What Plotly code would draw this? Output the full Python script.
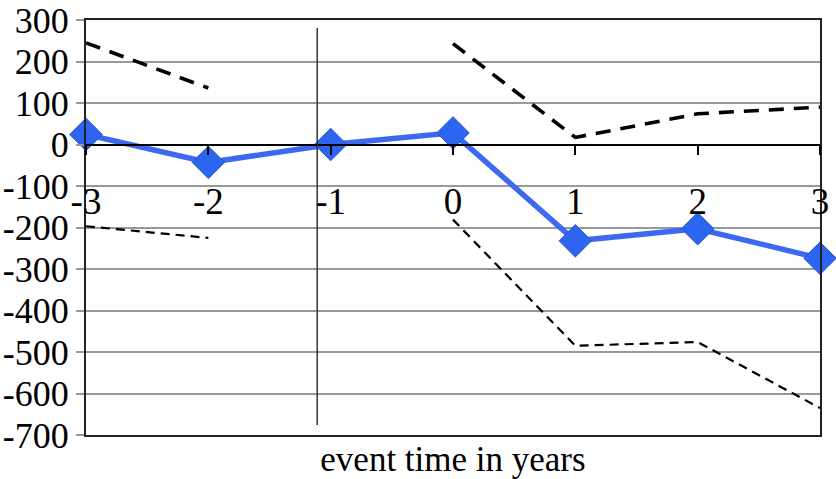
import plotly.graph_objects as go

event_time = [-3, -2, -1, 0, 1, 2, 3]
estimate = [24, -43, 0, 28, -232, -203, -274]
upper_ci = [245, 136, None, 243, 17, 74, 90]
lower_ci = [-197, -225, None, -181, -485, -476, -635]

y_ticks = [300, 200, 100, 0, -100, -200, -300, -400, -500, -600, -700]
y_ticktext = [str(v) for v in y_ticks]
x_ticktext = [str(v) for v in event_time]

event_marker_x = -1.11
event_marker_y = [281, -676]

font_family = "Liberation Serif"

fig = go.Figure()

fig.add_trace(go.Scatter(
    x=event_time, y=upper_ci, mode="lines", xaxis="x2",
    line=dict(color="black", width=3.6, dash="15px,10px"),
    connectgaps=False, hoverinfo="skip", showlegend=False))
fig.add_trace(go.Scatter(
    x=event_time, y=lower_ci, mode="lines", xaxis="x2",
    line=dict(color="black", width=2.2, dash="9px,6px"),
    connectgaps=False, hoverinfo="skip", showlegend=False))
fig.add_trace(go.Scatter(
    x=event_time, y=estimate, mode="lines+markers", xaxis="x2",
    line=dict(color="#3F68F2", width=5.5),
    marker=dict(symbol="diamond", size=25, color="#2C66F0",
                line=dict(color="#2456C8", width=1)),
    cliponaxis=False, showlegend=False))
# invisible trace to keep the frame axis alive
fig.add_trace(go.Scatter(x=[event_time[0]], y=[y_ticks[0]], mode="markers",
                         marker=dict(opacity=0), showlegend=False, hoverinfo="skip"))

fig.add_shape(type="line", xref="x", yref="y",
              x0=event_marker_x, x1=event_marker_x,
              y0=event_marker_y[0], y1=event_marker_y[1],
              line=dict(color="#333333", width=1.5))

fig.update_layout(
    width=836, height=479,
    margin=dict(l=86, r=16, t=20, b=44),
    paper_bgcolor="white", plot_bgcolor="white",
    font=dict(family=font_family, color="black", size=36),
    showlegend=False,
    xaxis=dict(
        range=[-3, 3], showgrid=False, zeroline=False, automargin=False,
        showline=True, linecolor="#222222", linewidth=2, mirror=True,
        showticklabels=False, ticks="",
        title=dict(text="event time in years", font=dict(size=35, family=font_family),
                   standoff=11),
    ),
    xaxis2=dict(
        overlaying="x", anchor="free", position=0.7, matches="x", automargin=False,
        range=[-3, 3], showgrid=False, zeroline=False,
        showline=True, linecolor="black", linewidth=1.5,
        tickmode="array", tickvals=event_time, ticktext=x_ticktext,
        ticks="outside", ticklen=10, tickcolor="black", tickwidth=1.5,
        ticklabelstandoff=14,
        tickfont=dict(size=37, family=font_family),
    ),
    yaxis=dict(
        range=[-700, 300], tickmode="array", tickvals=y_ticks, ticktext=y_ticktext,
        showgrid=True, gridcolor="#999999", gridwidth=1.5, automargin=False,
        zeroline=False, showline=True, linecolor="#222222", linewidth=2, mirror=True,
        ticks="outside", ticklen=8, tickcolor="#999999", tickwidth=1.5,
        tickfont=dict(size=36, family=font_family),
    ),
)

fig.write_html("out.html", config={"displayModeBar": False},
               post_script="document.body.style.margin='0';document.body.style.overflow='hidden';")
